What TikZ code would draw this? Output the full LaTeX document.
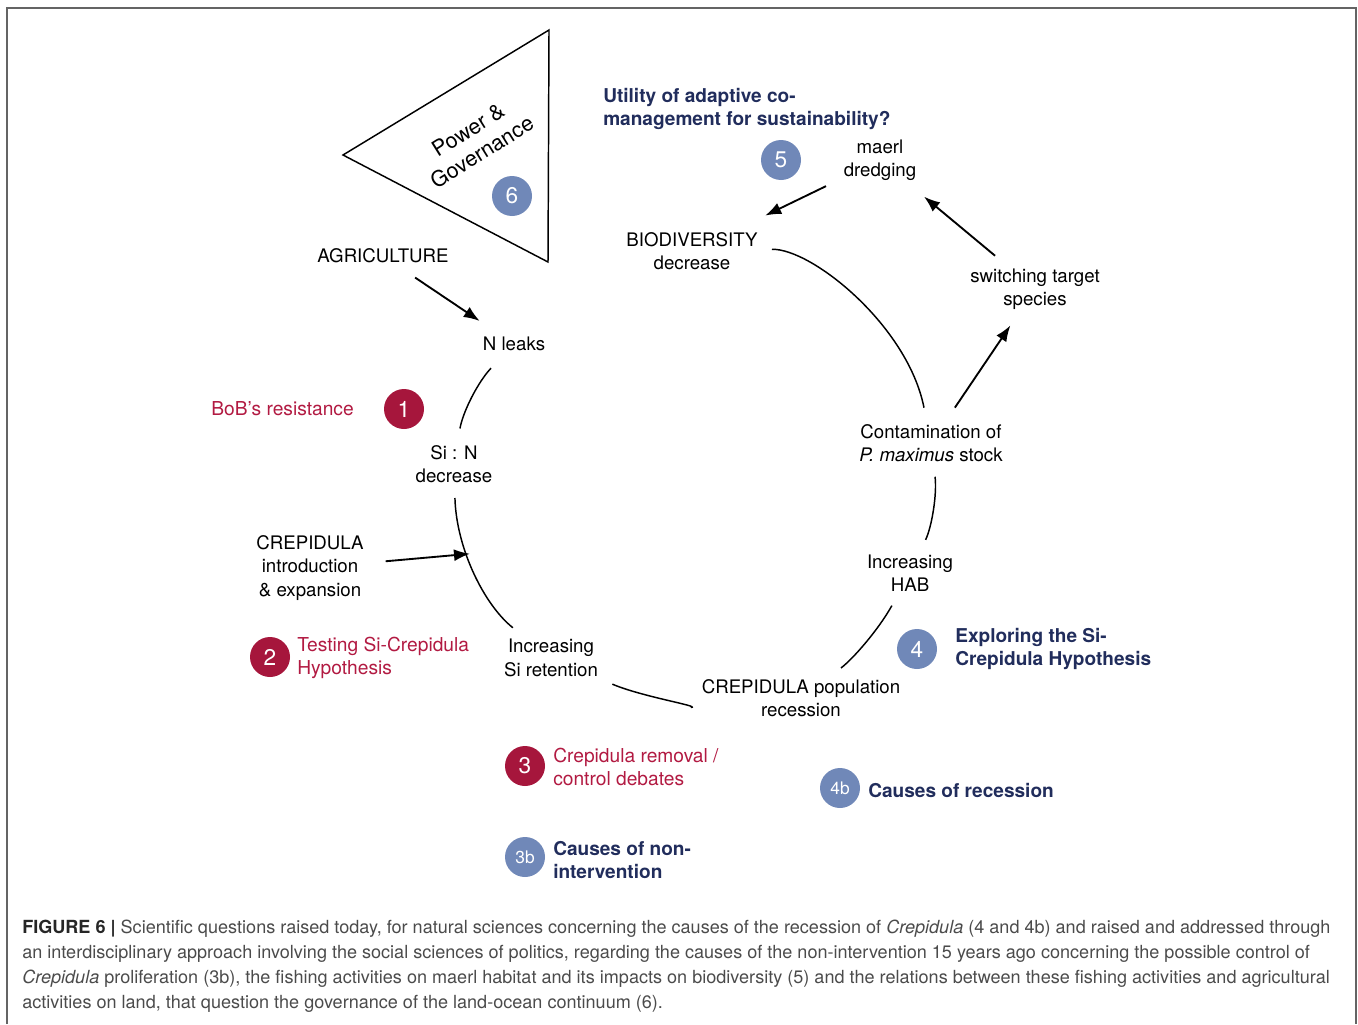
\documentclass[tikz,border=0pt]{standalone}
\usepackage{fontspec}
\setmainfont{TeX Gyre Heros}
\usepackage{tikz}
\usetikzlibrary{arrows.meta}

\definecolor{qred}{RGB}{178,26,66}
\definecolor{dotred}{RGB}{166,22,60}
\definecolor{qnavy}{RGB}{33,45,92}
\definecolor{dotblue}{RGB}{112,136,184}
\definecolor{capgray}{RGB}{75,75,75}
\definecolor{framegray}{RGB}{100,100,100}

\begin{document}
\begin{tikzpicture}[x=0.75pt,y=0.75pt,yscale=-1,xscale=1,
  lbl/.style={font=\fontsize{14}{17.6}\selectfont, align=center, inner sep=0.75pt},
  redq/.style={font=\fontsize{14.4}{17.6}\selectfont, text=qred, align=left, anchor=west, inner sep=0pt},
  blueq/.style={font=\bfseries\fontsize{14.3}{17.6}\selectfont, text=qnavy, align=left, anchor=west, inner sep=0pt},
  reddot/.style={circle, fill=dotred, text=white, minimum size=30pt, inner sep=0pt, font=\fontsize{17}{17}\selectfont},
  bluedot/.style={reddot, fill=dotblue},
  cyc/.style={line width=1.1pt},
  arr/.style={line width=1.4pt, -{Latex[length=12pt,width=9pt]}}]
\useasboundingbox (0,0) rectangle (1358,1024);

% frame
\draw [framegray, line width=1.5pt] (7,1024) -- (7,8) -- (1356,8) -- (1356,1024);

% power & governance
\draw [line width=1.1pt, line join=miter] (549,30) -- (343,155) -- (548,262) -- cycle;
\node [lbl, rotate=32, font=\fontsize{16.2}{19.5}\selectfont] (power) at (475,141) {Power \&\\Governance};
\node [bluedot] (d6) at (512,196) {6};

% cycle
\node [lbl] (agri) at (383,256) {AGRICULTURE};
\node [lbl] (nleaks) at (514,344) {N leaks};
\node [lbl] (sin) at (454,464) {Si : N\\decrease};
\node [lbl] (crepintro) at (310,568) {CREPIDULA\\introduction\\\& expansion};
\node [lbl] (sire) at (551,658) {Increasing\\Si retention};
\node [lbl] (crec) at (801,698) {CREPIDULA population\\recession};
\node [lbl] (hab) at (910,573) {Increasing\\HAB};
\node [lbl] (contam) at (931,443) {Contamination of\\\textit{P. maximus} stock};
\node [lbl] (switching) at (1035,289) {switching target\\species};
\node [lbl] (maerl) at (880,160) {maerl\\dredging};
\node [lbl] (biod) at (692,251) {BIODIVERSITY\\decrease};

\draw [cyc, shorten <=25pt, shorten >=27pt] (nleaks.center) to[bend left=17] (sin.center);
\draw [cyc, shorten <=25.5pt, shorten >=36.5pt] (sin.center) to[bend left=25] coordinate[pos=0.4] (hit) (sire.center);
\draw [cyc, shorten <=50pt, shorten >=83pt] (sire.center) to[bend left=14] (crec.center);
\draw [cyc, shorten <=37.5pt, shorten >=28pt] (crec.center) to[bend left=12] (hab.center);
\draw [cyc, shorten <=27.5pt, shorten >=25.5pt] (hab.center) to[bend left=16] (contam.center);
\draw [cyc, shorten <=27pt, shorten >=60pt] (contam.center) to[bend left=40] (biod.center);

\draw [arr, shorten <=29pt, shorten >=31pt] (agri.center) -- (nleaks.center);
\draw [arr, shorten <=57pt] (crepintro.center) -- (hit);
\draw [arr, shorten <=32pt, shorten >=33pt] (contam.center) -- (switching.center);
\draw [arr, shorten <=39pt, shorten >=43pt] (switching.center) -- (maerl.center);
\draw [arr, shorten <=45pt, shorten >=61pt] (maerl.center) -- (biod.center);

% questions
\node [reddot] (d1) at (404,409) {1};
\node [redq, anchor=east] (q1) at (354,409) {BoB’s resistance};
\node [reddot] (d2) at (270,657) {2};
\node [redq] (q2) at (297,658) {Testing Si-Crepidula\\Hypothesis};
\node [reddot] (d3) at (525,766) {3};
\node [redq] (q3) at (553,767) {Crepidula removal /\\control debates};
\node [bluedot, font=\fontsize{13}{13}\selectfont] (d3b) at (525,857) {3b};
\node [blueq] (q3b) at (553,860) {Causes of non-\\intervention};
\node [bluedot] (d4) at (917,649) {4};
\node [blueq] (q4) at (955,649) {Exploring the Si-\\Crepidula Hypothesis};
\node [bluedot, font=\fontsize{13}{13}\selectfont] (d4b) at (840,788) {4b};
\node [blueq] (q4b) at (868,790) {Causes of recession};
\node [bluedot] (d5) at (781,160) {5};
\node [blueq] (q5) at (603,109) {Utility of adaptive co-\\management for sustainability?};

% caption
\node [anchor=north west, inner sep=0pt, align=left, text=capgray, font=\fontsize{13.55}{18.75}\selectfont] (cap) at (22,920)
 {\textbf{\color{black!85}FIGURE 6 |} Scientific questions raised today, for natural sciences concerning the causes of the recession of \textit{Crepidula} (4 and 4b) and raised and addressed through\\
 an interdisciplinary approach involving the social sciences of politics, regarding the causes of the non-intervention 15 years ago concerning the possible control of\\
 \textit{Crepidula} proliferation (3b), the fishing activities on maerl habitat and its impacts on biodiversity (5) and the relations between these fishing activities and agricultural\\
 activities on land, that question the governance of the land-ocean continuum (6).};
\end{tikzpicture}
\end{document}
